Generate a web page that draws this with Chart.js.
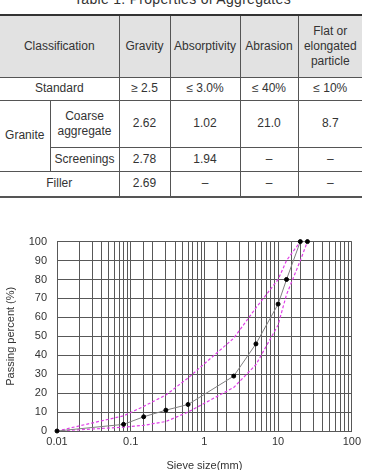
<!DOCTYPE html>
<html>
<head>
<meta charset="utf-8">
<script src="https://cdn.jsdelivr.net/npm/chart.js@4.4.1/dist/chart.umd.min.js"></script>
<style>
body{margin:0;width:365px;height:470px;overflow:hidden;background:#fff;font-family:"Liberation Sans",Arial,sans-serif;color:#333;position:relative}
.title{position:absolute;top:-9px;left:0;width:365px;text-align:center;font-size:14px;letter-spacing:.3px}
table{position:absolute;top:14px;left:0;width:362px;border-collapse:collapse;table-layout:fixed;font-size:12px;text-align:center}
td,th{border:1px solid #555;padding:0;font-weight:normal;line-height:15px}
th{border-top:2px solid #333;background:#e2e2e2}
tr.last td{border-bottom:2px solid #555}
.nl{border-left:none}
.nr{border-right:none}
#wrap{position:absolute;left:0;top:225px;width:365px;height:245px}
</style>
</head>
<body>
<div class="title">Table 1. Properties of Aggregates</div>
<table>
  <colgroup><col style="width:50px"><col style="width:69px"><col style="width:51px"><col style="width:70px"><col style="width:58px"><col style="width:64px"></colgroup>
  <tr style="height:62px"><th class="nl" colspan="2">Classification</th><th>Gravity</th><th>Absorptivity</th><th>Abrasion</th><th class="nr">Flat or<br>elongated<br>particle</th></tr>
  <tr style="height:23px"><td class="nl" colspan="2">Standard</td><td>≥ 2.5</td><td>≤ 3.0%</td><td>≤ 40%</td><td class="nr">≤ 10%</td></tr>
  <tr style="height:47px"><td class="nl" rowspan="2">Granite</td><td>Coarse<br>aggregate</td><td>2.62</td><td>1.02</td><td>21.0</td><td class="nr">8.7</td></tr>
  <tr style="height:24px"><td>Screenings</td><td>2.78</td><td>1.94</td><td>–</td><td class="nr">–</td></tr>
  <tr class="last" style="height:26px"><td class="nl" colspan="2">Filler</td><td>2.69</td><td>–</td><td>–</td><td class="nr">–</td></tr>
</table>
<div id="wrap"><canvas id="grading"></canvas></div>
<script>
// sieve sizes (mm) and passing percent
const sieveSizes = [0.01, 0.08, 0.15, 0.3, 0.6, 2.5, 5, 10, 13, 20, 25];
const passing    = [0, 3.5, 7.5, 11, 14, 29, 46, 67, 80, 100, 100];
const upperLimit = [0, 8, 13, 19, 28, 49, 65, 80, 90, 100, null];
const lowerLimit = [0, 2, 3, 5, 10, 23, 35, 56, 72, 90, 100];
const xTickLabels = [0.01, 0.1, 1, 10, 100];

function pts(ys) {
    return sieveSizes.map((x, i) => ({ x: x, y: ys[i] }));
}

const gridColor = '#585858';
const font = { family: '"Liberation Sans", Arial, sans-serif', size: 11 };

new Chart(document.getElementById('grading').getContext('2d'), {
    type: 'line',
    data: {
        datasets: [{
            label: 'Gradation',
            data: pts(passing),
            borderColor: '#808080',
            borderWidth: 1,
            pointBackgroundColor: '#000',
            pointBorderColor: '#000',
            pointRadius: 2,
            clip: false
        }, {
            label: 'Upper',
            data: pts(upperLimit),
            borderColor: '#e040e8',
            borderWidth: 1.2,
            borderDash: [3, 2],
            pointRadius: 0
        }, {
            label: 'Lower',
            data: pts(lowerLimit),
            borderColor: '#e040e8',
            borderWidth: 1.2,
            borderDash: [3, 2],
            pointRadius: 0
        }]
    },
    options: {
        responsive: true,
        maintainAspectRatio: false,
        animation: false,
        layout: { padding: { top: 16, right: 4, left: 0, bottom: 0 } },
        plugins: { legend: { display: false }, tooltip: { enabled: false } },
        scales: {
            x: {
                type: 'logarithmic',
                min: 0.01,
                max: 100,
                grid: { color: gridColor, drawTicks: false },
                border: { color: gridColor },
                ticks: {
                    autoSkip: false,
                    maxRotation: 0,
                    padding: 4,
                    color: '#333',
                    font: font,
                    callback: function (v) {
                        const t = xTickLabels.find(l => Math.abs(l - v) / l < 1e-6);
                        return t === undefined ? '' : String(t);
                    }
                },
                title: { display: true, text: 'Sieve size(mm)', color: '#333', font: font, padding: { top: 0, bottom: -3 } },
                afterFit: function (s) { s.height = 39; }
            },
            y: {
                min: 0,
                max: 100,
                grid: { color: gridColor, drawTicks: false },
                border: { color: gridColor },
                ticks: { stepSize: 10, padding: 10, color: '#333', font: font },
                title: { display: true, text: 'Passing percent (%)', color: '#333', font: font },
                afterFit: function (s) { s.width = 57; }
            }
        }
    }
});
</script>
</body>
</html>
